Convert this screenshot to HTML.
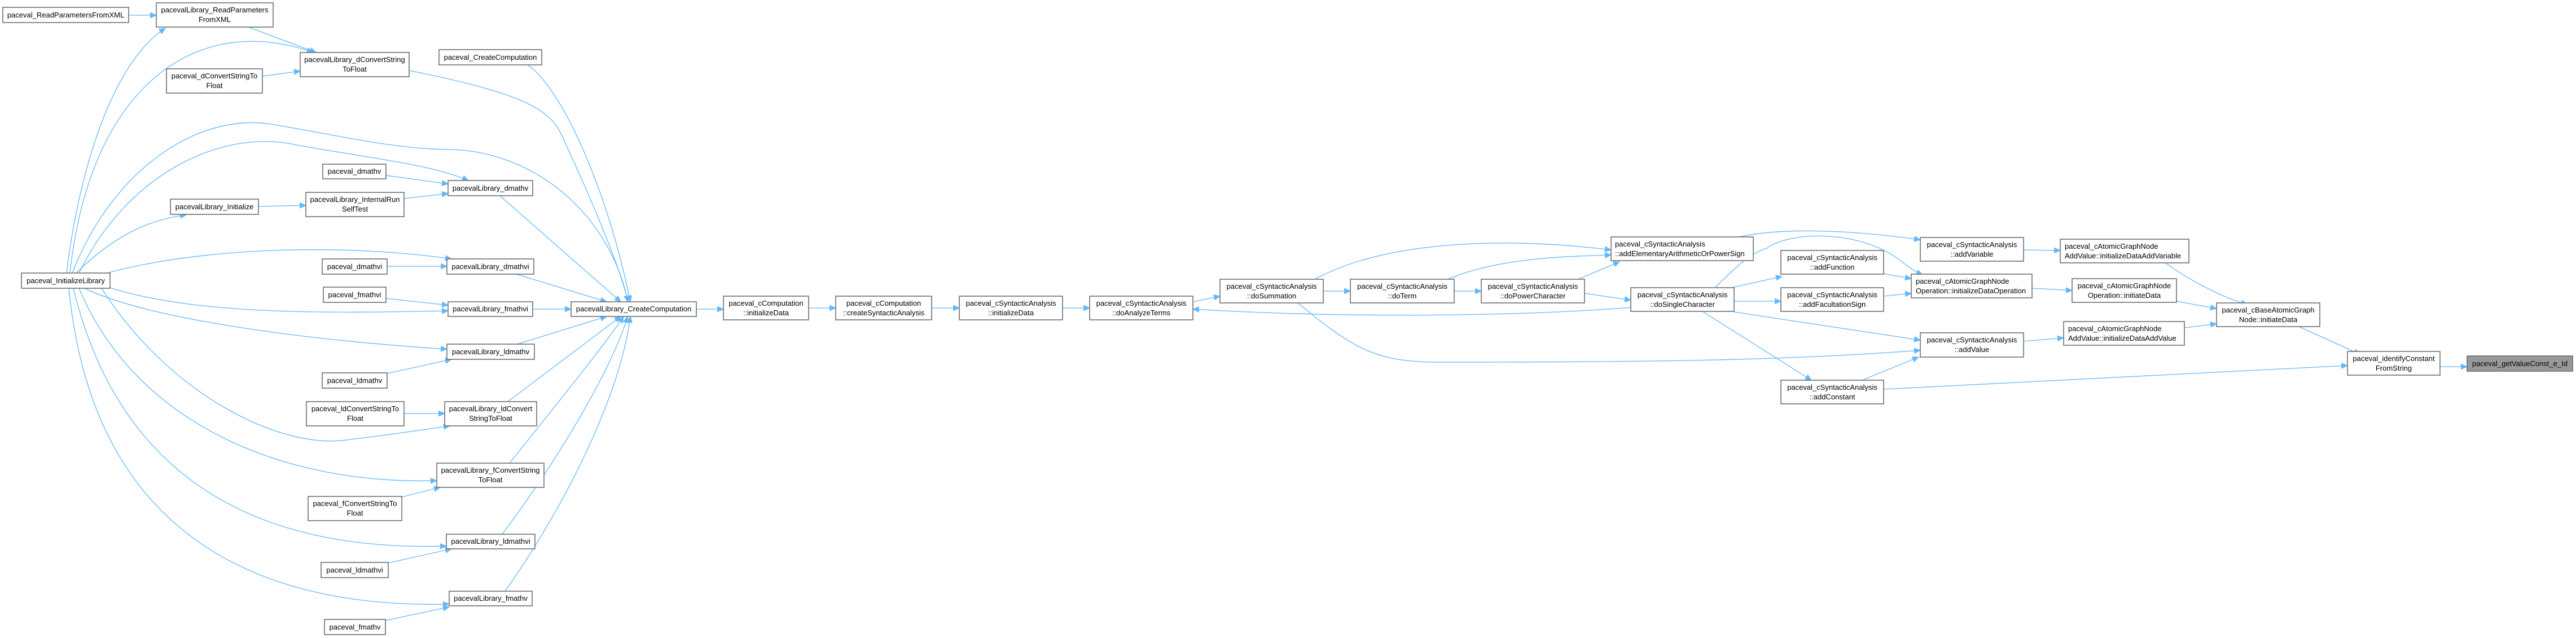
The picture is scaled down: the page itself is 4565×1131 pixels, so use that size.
<!DOCTYPE html>
<html><head><meta charset="utf-8"><style>
html,body{margin:0;padding:0;background:#fff;}
svg{display:block;}
text{font-family:"Liberation Sans",Arial,sans-serif;font-size:13px;fill:#000;}
.n{fill:#fff;stroke:#666;stroke-width:1.5;}
.g{fill:#999;stroke:#666;stroke-width:1.5;}
.e{fill:none;stroke:#63b8ff;stroke-width:1.3;marker-end:url(#a);}
</style></head><body>
<svg width="4565" height="1131" viewBox="0 0 4565 1131" xmlns="http://www.w3.org/2000/svg">
<defs><marker id="a" markerUnits="userSpaceOnUse" markerWidth="12" markerHeight="10" refX="11" refY="5" orient="auto"><path d="M0,0 L11,5 L0,10 z" fill="#63b8ff" stroke="#63b8ff"/></marker></defs>

<path class="e" d="M228,27 L277,27"/>
<path class="e" d="M440,48 L560,93"/>
<path class="e" d="M118,484 C140,300 200,110 293,50"/>
<path class="e" d="M124,484 C160,150 350,20 555,93"/>
<path class="e" d="M465,135 L532,126"/>
<path class="e" d="M725,125 C950,170 980,200 1000,250 C1060,380 1100,480 1113,535"/>
<path class="e" d="M935,115 C1000,160 1080,350 1117,535"/>
<path class="e" d="M128,484 C200,300 350,200 480,220 C600,240 700,265 800,265 C950,270 1080,380 1113,535"/>
<path class="e" d="M140,484 C230,300 400,230 520,256 C650,280 760,290 830,320"/>
<path class="e" d="M684,311 L794,326"/>
<path class="e" d="M716,352 L794,343"/>
<path class="e" d="M458,366 L542,364"/>
<path class="e" d="M135,484 C200,420 260,390 330,381"/>
<path class="e" d="M886,347 L1100,535"/>
<path class="e" d="M190,484 C350,440 600,430 800,459"/>
<path class="e" d="M686,472 L792,472"/>
<path class="e" d="M915,486 L1075,535"/>
<path class="e" d="M684,529 L794,541"/>
<path class="e" d="M195,510 C350,560 600,555 794,551"/>
<path class="e" d="M944,548 L1012,548"/>
<path class="e" d="M150,511 C250,560 500,600 792,619"/>
<path class="e" d="M686,662 L800,637"/>
<path class="e" d="M917,610 L1075,561"/>
<path class="e" d="M180,511 C300,700 500,800 620,779 C700,770 760,760 797,755"/>
<path class="e" d="M716,733 L788,733"/>
<path class="e" d="M900,712 L1100,561"/>
<path class="e" d="M140,511 C240,750 500,860 774,852"/>
<path class="e" d="M712,881 L780,864"/>
<path class="e" d="M903,821 C1000,700 1080,600 1105,561"/>
<path class="e" d="M130,511 C200,800 400,980 791,968"/>
<path class="e" d="M688,998 L800,973"/>
<path class="e" d="M890,947 C1000,800 1090,640 1112,561"/>
<path class="e" d="M122,511 C160,900 400,1080 796,1071"/>
<path class="e" d="M683,1100 L796,1076"/>
<path class="e" d="M895,1048 C1000,900 1100,700 1117,561"/>
<path class="e" d="M1234,548 L1282,548"/>
<path class="e" d="M1433,546 L1481,546"/>
<path class="e" d="M1651,546 L1700,546"/>
<path class="e" d="M1883,546 L1931,546"/>
<path class="e" d="M2114,535 L2162,525"/>
<path class="e" d="M2345,516 L2393,516"/>
<path class="e" d="M2577,516 L2625,516"/>
<path class="e" d="M2808,520 L2890,532"/>
<path class="e" d="M2890,545 C2700,560 2400,565 2114,548"/>
<path class="e" d="M2330,495 C2450,430 2650,418 2855,443"/>
<path class="e" d="M2565,495 C2650,460 2750,455 2855,452"/>
<path class="e" d="M2797,495 L2870,464"/>
<path class="e" d="M3068,510 L3158,490"/>
<path class="e" d="M3073,534 L3156,534"/>
<path class="e" d="M3073,553 L3403,603"/>
<path class="e" d="M3017,552 L3210,674"/>
<path class="e" d="M3039,510 C3080,470 3100,450 3131,440 C3170,410 3300,405 3373,466 C3385,476 3395,482 3407,487"/>
<path class="e" d="M3082,420 C3150,405 3260,405 3403,425"/>
<path class="e" d="M3338,485 L3387,494"/>
<path class="e" d="M3338,525 L3387,520"/>
<path class="e" d="M3586,443 L3651,444"/>
<path class="e" d="M3601,511 L3672,515"/>
<path class="e" d="M3586,605 L3657,599"/>
<path class="e" d="M3300,674 L3400,633"/>
<path class="e" d="M3338,690 L4160,648"/>
<path class="e" d="M2300,537 C2400,620 2440,642 2550,642 C2900,642 3150,640 3403,621"/>
<path class="e" d="M3837,466 C3900,510 3950,530 3982,540"/>
<path class="e" d="M3857,534 L3928,547"/>
<path class="e" d="M3871,581 L3928,574"/>
<path class="e" d="M4074,579 L4182,628"/>
<path class="e" d="M4324,650 L4372,650"/>

<g>
<rect class="n" x="5" y="13" width="223" height="27"/><text x="116.5" y="31" text-anchor="middle">paceval_ReadParametersFromXML</text>
<rect class="n" x="277" y="5" width="207" height="43"/><text x="380.5" y="22" text-anchor="middle">pacevalLibrary_ReadParameters</text><text x="380.5" y="39" text-anchor="middle">FromXML</text>
<rect class="n" x="532" y="93" width="193" height="43"/><text x="628.5" y="110" text-anchor="middle">pacevalLibrary_dConvertString</text><text x="628.5" y="127" text-anchor="middle">ToFloat</text>
<rect class="n" x="778" y="88" width="182" height="27"/><text x="869" y="106" text-anchor="middle">paceval_CreateComputation</text>
<rect class="n" x="295" y="122" width="170" height="43"/><text x="380" y="139" text-anchor="middle">paceval_dConvertStringTo</text><text x="380" y="156" text-anchor="middle">Float</text>
<rect class="n" x="572" y="291" width="112" height="26"/><text x="628" y="308" text-anchor="middle">paceval_dmathv</text>
<rect class="n" x="794" y="320" width="150" height="27"/><text x="869" y="338" text-anchor="middle">pacevalLibrary_dmathv</text>
<rect class="n" x="542" y="341" width="174" height="43"/><text x="629" y="358" text-anchor="middle">pacevalLibrary_InternalRun</text><text x="629" y="375" text-anchor="middle">SelfTest</text>
<rect class="n" x="302" y="353" width="156" height="27"/><text x="380" y="371" text-anchor="middle">pacevalLibrary_Initialize</text>
<rect class="n" x="38" y="484" width="157" height="27"/><text x="116.5" y="502" text-anchor="middle">paceval_InitializeLibrary</text>
<rect class="n" x="571" y="459" width="115" height="27"/><text x="628.5" y="477" text-anchor="middle">paceval_dmathvi</text>
<rect class="n" x="792" y="459" width="154" height="27"/><text x="869" y="477" text-anchor="middle">pacevalLibrary_dmathvi</text>
<rect class="n" x="573" y="509" width="111" height="27"/><text x="628.5" y="527" text-anchor="middle">paceval_fmathvi</text>
<rect class="n" x="794" y="535" width="150" height="26"/><text x="869" y="552" text-anchor="middle">pacevalLibrary_fmathvi</text>
<rect class="n" x="1012" y="535" width="222" height="26"/><text x="1123" y="552" text-anchor="middle">pacevalLibrary_CreateComputation</text>
<rect class="n" x="792" y="610" width="155" height="27"/><text x="869.5" y="628" text-anchor="middle">pacevalLibrary_ldmathv</text>
<rect class="n" x="571" y="661" width="115" height="27"/><text x="628.5" y="679" text-anchor="middle">paceval_ldmathv</text>
<rect class="n" x="543" y="712" width="173" height="43"/><text x="629.5" y="729" text-anchor="middle">paceval_ldConvertStringTo</text><text x="629.5" y="746" text-anchor="middle">Float</text>
<rect class="n" x="788" y="712" width="163" height="43"/><text x="869.5" y="729" text-anchor="middle">pacevalLibrary_ldConvert</text><text x="869.5" y="746" text-anchor="middle">StringToFloat</text>
<rect class="n" x="774" y="821" width="190" height="43"/><text x="869" y="838" text-anchor="middle">pacevalLibrary_fConvertString</text><text x="869" y="855" text-anchor="middle">ToFloat</text>
<rect class="n" x="546" y="880" width="166" height="43"/><text x="629" y="897" text-anchor="middle">paceval_fConvertStringTo</text><text x="629" y="914" text-anchor="middle">Float</text>
<rect class="n" x="791" y="947" width="157" height="26"/><text x="869.5" y="964" text-anchor="middle">pacevalLibrary_ldmathvi</text>
<rect class="n" x="569" y="997" width="119" height="27"/><text x="628.5" y="1015" text-anchor="middle">paceval_ldmathvi</text>
<rect class="n" x="796" y="1048" width="147" height="26"/><text x="869.5" y="1065" text-anchor="middle">pacevalLibrary_fmathv</text>
<rect class="n" x="575" y="1098" width="108" height="27"/><text x="629" y="1116" text-anchor="middle">paceval_fmathv</text>

<rect class="n" x="1282" y="525" width="151" height="42"/><text x="1357.5" y="542" text-anchor="middle">paceval_cComputation</text><text x="1357.5" y="559" text-anchor="middle">::initializeData</text>
<rect class="n" x="1481" y="525" width="170" height="42"/><text x="1566" y="542" text-anchor="middle">paceval_cComputation</text><text x="1566" y="559" text-anchor="middle">::createSyntacticAnalysis</text>
<rect class="n" x="1700" y="525" width="183" height="42"/><text x="1791.5" y="542" text-anchor="middle">paceval_cSyntacticAnalysis</text><text x="1791.5" y="559" text-anchor="middle">::initializeData</text>
<rect class="n" x="1931" y="525" width="183" height="42"/><text x="2022.5" y="542" text-anchor="middle">paceval_cSyntacticAnalysis</text><text x="2022.5" y="559" text-anchor="middle">::doAnalyzeTerms</text>
<rect class="n" x="2162" y="495" width="183" height="42"/><text x="2253.5" y="512" text-anchor="middle">paceval_cSyntacticAnalysis</text><text x="2253.5" y="529" text-anchor="middle">::doSummation</text>
<rect class="n" x="2393" y="495" width="184" height="42"/><text x="2485" y="512" text-anchor="middle">paceval_cSyntacticAnalysis</text><text x="2485" y="529" text-anchor="middle">::doTerm</text>
<rect class="n" x="2625" y="495" width="183" height="42"/><text x="2716.5" y="512" text-anchor="middle">paceval_cSyntacticAnalysis</text><text x="2716.5" y="529" text-anchor="middle">::doPowerCharacter</text>
<rect class="n" x="2855" y="420" width="252" height="42"/><text x="2862" y="437">paceval_cSyntacticAnalysis</text><text x="2862" y="454">::addElementaryArithmeticOrPowerSign</text>
<rect class="n" x="2890" y="510" width="183" height="42"/><text x="2981.5" y="527" text-anchor="middle">paceval_cSyntacticAnalysis</text><text x="2981.5" y="544" text-anchor="middle">::doSingleCharacter</text>
<rect class="n" x="3156" y="444" width="182" height="42"/><text x="3247" y="461" text-anchor="middle">paceval_cSyntacticAnalysis</text><text x="3247" y="478" text-anchor="middle">::addFunction</text>
<rect class="n" x="3156" y="510" width="182" height="42"/><text x="3247" y="527" text-anchor="middle">paceval_cSyntacticAnalysis</text><text x="3247" y="544" text-anchor="middle">::addFacultationSign</text>
<rect class="n" x="3403" y="421" width="183" height="42"/><text x="3494.5" y="438" text-anchor="middle">paceval_cSyntacticAnalysis</text><text x="3494.5" y="455" text-anchor="middle">::addVariable</text>
<rect class="n" x="3651" y="424" width="228" height="42"/><text x="3659" y="441">paceval_cAtomicGraphNode</text><text x="3659" y="458">AddValue::initializeDataAddVariable</text>
<rect class="n" x="3387" y="486" width="214" height="42"/><text x="3395" y="503">paceval_cAtomicGraphNode</text><text x="3395" y="520">Operation::initializeDataOperation</text>
<rect class="n" x="3672" y="494" width="185" height="42"/><text x="3764.5" y="511" text-anchor="middle">paceval_cAtomicGraphNode</text><text x="3764.5" y="528" text-anchor="middle">Operation::initiateData</text>
<rect class="n" x="3928" y="537" width="183" height="42"/><text x="4019.5" y="554" text-anchor="middle">paceval_cBaseAtomicGraph</text><text x="4019.5" y="571" text-anchor="middle">Node::initiateData</text>
<rect class="n" x="3657" y="570" width="214" height="42"/><text x="3665" y="587">paceval_cAtomicGraphNode</text><text x="3665" y="604">AddValue::initializeDataAddValue</text>
<rect class="n" x="3403" y="590" width="183" height="43"/><text x="3494.5" y="607" text-anchor="middle">paceval_cSyntacticAnalysis</text><text x="3494.5" y="624" text-anchor="middle">::addValue</text>
<rect class="n" x="4160" y="623" width="164" height="42"/><text x="4242" y="640" text-anchor="middle">paceval_identifyConstant</text><text x="4242" y="657" text-anchor="middle">FromString</text>
<rect class="g" x="4372" y="631" width="187" height="27"/><text x="4465.5" y="649" text-anchor="middle">paceval_getValueConst_e_Id</text>
<rect class="n" x="3156" y="674" width="182" height="42"/><text x="3247" y="691" text-anchor="middle">paceval_cSyntacticAnalysis</text><text x="3247" y="708" text-anchor="middle">::addConstant</text>
</g>
</svg>
</body></html>
